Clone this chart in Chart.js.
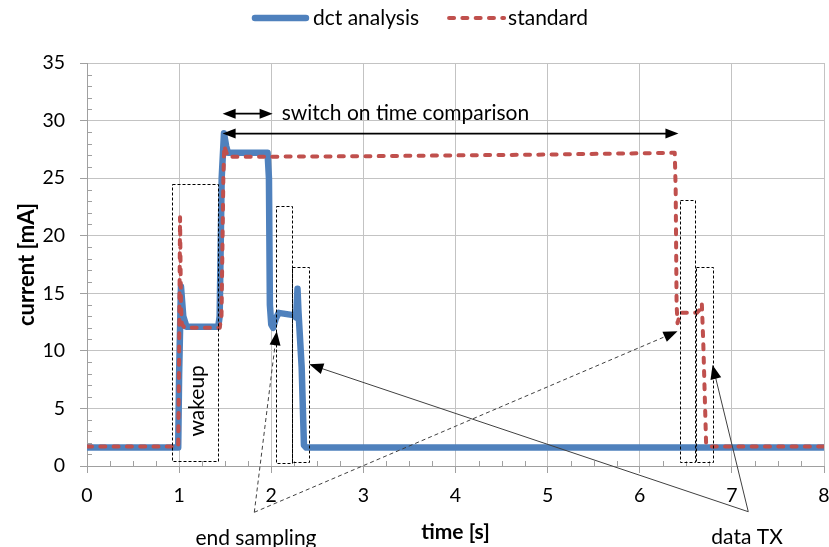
<!DOCTYPE html>
<html>
<head>
<meta charset="utf-8">
<script src="https://cdn.jsdelivr.net/npm/chart.js@4.4.1/dist/chart.umd.min.js"></script>
<style>
  html, body { margin: 0; padding: 0; background: #fff; }
  canvas { display: block; }
</style>
</head>
<body>
<canvas id="chart" width="829" height="547"></canvas>
<script>
// --- Data ---
const TIME_TICKS = [0, 1, 2, 3, 4, 5, 6, 7, 8];
const CURRENT_TICKS = [0, 5, 10, 15, 20, 25, 30, 35];

// dct analysis trace: time [s] / current [mA]
const dctTime = [0, 0.99, 1.0, 1.02, 1.045, 1.08, 1.425, 1.44, 1.462, 1.487, 1.51, 1.53, 1.96, 1.975, 1.985, 2.0, 2.02, 2.05, 2.08, 2.24, 2.27, 2.285, 2.295, 2.33, 2.355, 2.38, 8];
const dctCurrent = [1.6, 1.6, 8, 15.6, 13, 12.1, 12.1, 13, 25, 28.9, 27.8, 27.2, 27.2, 25, 14, 12.3, 12.0, 12.8, 13.3, 13.1, 12.9, 15.4, 13.5, 8.6, 1.8, 1.6, 1.6];

// standard trace
const stdTime = [0, 0.99, 1.0, 1.01, 1.02, 1.03, 1.06, 1.44, 1.46, 1.48, 1.49, 1.51, 1.53, 3, 5, 6.38, 6.39, 6.40, 6.41, 6.44, 6.62, 6.655, 6.674, 6.69, 6.72, 6.74, 8];
const stdCurrent = [1.7, 1.7, 10, 21.6, 14, 12.3, 12.0, 12.0, 13, 25, 27.8, 27.3, 26.85, 26.9, 27.05, 27.2, 24, 14, 12.4, 13.3, 13.3, 13.6, 14.1, 10.6, 2.0, 1.7, 1.7];

const SERIES_NAMES = ["dct analysis", "standard"];
const BLUE = "#4f81bd";
const RED = "#c0504d";
const GRID = "#c3c3c3";
const AXIS = "#a0a0a0";
const FONT = "Lato, 'Open Sans', sans-serif";
const NOTE_FONT = "21px " + FONT;

// --- Annotations (data coordinates) ---
const boxes = [
  { x0: 0.926, x1: 1.419, y0: 0.43, y1: 24.45 },
  { x0: 2.05, x1: 2.22, y0: 0.23, y1: 22.57 },
  { x0: 2.22, x1: 2.41, y0: 0.32, y1: 17.25 },
  { x0: 6.44, x1: 6.60, y0: 0.32, y1: 23.1 },
  { x0: 6.61, x1: 6.80, y0: 0.32, y1: 17.25 },
];
const spans = [
  { x0: 1.472, x1: 2.015, y: 30.6 },
  { x0: 1.472, x1: 6.42, y: 28.87 },
];
const endSampling = { from: [1.816, -4.02], tips: [[2.06, 11.7], [6.41, 11.7]], label: [1.834, -6.9] };
const dataTx = { from: [7.178, -3.97], tips: [[2.413, 8.83], [6.79, 8.77]], label: [7.165, -6.75] };

function toPts(xs, ys) {
  return xs.map((x, i) => ({ x, y: ys[i] }));
}

function arrowHead(ctx, x1, y1, x2, y2, len, wid) {
  const a = Math.atan2(y2 - y1, x2 - x1);
  ctx.save();
  ctx.translate(x2, y2);
  ctx.rotate(a);
  ctx.beginPath();
  ctx.moveTo(0, 0);
  ctx.lineTo(-len, -wid / 2);
  ctx.lineTo(-len, wid / 2);
  ctx.closePath();
  ctx.fill();
  ctx.restore();
}

const minorTicks = {
  id: "minorTicks",
  beforeDatasetsDraw(chart) {
    const { ctx, scales: { x, y } } = chart;
    ctx.save();
    ctx.strokeStyle = AXIS;
    ctx.lineWidth = 1;
    ctx.beginPath();
    for (let v = 0.25; v < 8; v += 0.25) {
      if (v % 1 === 0) continue;
      const px = Math.round(x.getPixelForValue(v)) + 0.5;
      ctx.moveTo(px, y.bottom);
      ctx.lineTo(px, y.bottom - 5);
    }
    for (let v = 1; v < 35; v++) {
      if (v % 5 === 0) continue;
      const py = Math.round(y.getPixelForValue(v)) + 0.5;
      ctx.moveTo(x.left, py);
      ctx.lineTo(x.left + 5, py);
    }
    ctx.stroke();
    ctx.restore();
  },
};

const notes = {
  id: "notes",
  afterDatasetsDraw(chart) {
    const { ctx, scales: { x, y } } = chart;
    const px = (v) => x.getPixelForValue(v);
    const py = (v) => y.getPixelForValue(v);
    ctx.save();

    // dotted frames
    ctx.strokeStyle = "#000";
    ctx.lineWidth = 1;
    ctx.setLineDash([3, 2]);
    boxes.forEach((b) => {
      const l = Math.round(px(b.x0)) + 0.5, r = Math.round(px(b.x1)) + 0.5;
      const t = Math.round(py(b.y1)) + 0.5, btm = Math.round(py(b.y0)) + 0.5;
      ctx.strokeRect(l, t, r - l, btm - t);
    });

    // double arrows
    ctx.setLineDash([]);
    ctx.fillStyle = "#000";
    ctx.lineWidth = 1.75;
    spans.forEach((s) => {
      const a = px(s.x0), b = px(s.x1), yy = py(s.y);
      ctx.beginPath();
      ctx.moveTo(a + 8, yy);
      ctx.lineTo(b - 8, yy);
      ctx.stroke();
      arrowHead(ctx, b, yy, a, yy, 13, 10);
      arrowHead(ctx, a, yy, b, yy, 13, 10);
    });

    // pointer lines
    ctx.lineWidth = 1;
    ctx.strokeStyle = "#404040";
    [[endSampling, [4, 3]], [dataTx, []]].forEach(([n, dash]) => {
      const fx = px(n.from[0]), fy = py(n.from[1]);
      n.tips.forEach((t) => {
        const tx = px(t[0]), ty = py(t[1]);
        const len = Math.hypot(tx - fx, ty - fy);
        const ex = tx - ((tx - fx) / len) * 10, ey = ty - ((ty - fy) / len) * 10;
        ctx.setLineDash(dash);
        ctx.beginPath();
        ctx.moveTo(fx, fy);
        ctx.lineTo(ex, ey);
        ctx.stroke();
        ctx.setLineDash([]);
        arrowHead(ctx, fx, fy, tx, ty, 14, 11);
      });
    });

    // labels
    ctx.fillStyle = "#000";
    ctx.font = NOTE_FONT;
    ctx.textBaseline = "middle";
    ctx.textAlign = "left";
    ctx.fillText("switch on time comparison", px(2.113), py(30.64));

    ctx.save();
    ctx.translate(px(1.2), py(5.66));
    ctx.rotate(-Math.PI / 2);
    ctx.textAlign = "center";
    ctx.fillText("wakeup", 0, 0);
    ctx.restore();

    ctx.textAlign = "center";
    ctx.textBaseline = "alphabetic";
    ctx.fillText("end sampling", px(endSampling.label[0]), py(endSampling.label[1]));
    ctx.fillText("data TX", px(dataTx.label[0]), py(dataTx.label[1]));

    ctx.restore();
  },
  afterDraw(chart) {
    // legend row
    const { ctx } = chart;
    ctx.save();
    ctx.font = NOTE_FONT;
    ctx.textBaseline = "middle";
    const sample = 57, gap = 4, between = 28;
    const w0 = ctx.measureText(SERIES_NAMES[0]).width;
    const w1 = ctx.measureText(SERIES_NAMES[1]).width;
    const total = sample + gap + w0 + between + sample + gap + w1;
    let cx = 420 - total / 2;
    const ly = 18;

    ctx.strokeStyle = BLUE;
    ctx.lineWidth = 6.5;
    ctx.lineCap = "round";
    ctx.beginPath();
    ctx.moveTo(cx + 3, ly);
    ctx.lineTo(cx + sample - 3, ly);
    ctx.stroke();
    cx += sample + gap;
    ctx.fillStyle = "#000";
    ctx.fillText(SERIES_NAMES[0], cx, ly);
    cx += w0 + between;

    ctx.strokeStyle = RED;
    ctx.lineWidth = 4;
    ctx.setLineDash([5, 8.3]);
    ctx.beginPath();
    ctx.moveTo(cx + 2, ly);
    ctx.lineTo(cx + sample, ly);
    ctx.stroke();
    ctx.setLineDash([]);
    cx += sample + gap;
    ctx.fillText(SERIES_NAMES[1], cx, ly);
    ctx.restore();
  },
};

new Chart(document.getElementById("chart"), {
  type: "line",
  data: {
    datasets: [
      {
        label: SERIES_NAMES[0],
        data: toPts(dctTime, dctCurrent),
        borderColor: BLUE,
        borderWidth: 6.5,
        borderCapStyle: "round",
        borderJoinStyle: "round",
        order: 1,
      },
      {
        label: SERIES_NAMES[1],
        data: toPts(stdTime, stdCurrent),
        borderColor: RED,
        borderWidth: 4,
        borderDash: [5, 8.3],
        borderCapStyle: "round",
        borderJoinStyle: "round",
        order: 0,
      },
    ],
  },
  options: {
    responsive: false,
    animation: false,
    layout: { padding: { top: 63, left: 0, right: 0, bottom: 0 } },
    elements: { point: { radius: 0 }, line: { tension: 0 } },
    plugins: { legend: { display: false }, tooltip: { enabled: false } },
    scales: {
      x: {
        type: "linear",
        min: 0,
        max: 8,
        afterBuildTicks: (s) => { s.ticks = TIME_TICKS.map((v) => ({ value: v })); },
        afterFit: (s) => { s.height = 81; s.paddingRight = 5; s.paddingLeft = 0; },
        grid: { color: GRID, tickLength: 7, tickColor: AXIS },
        border: { color: AXIS },
        ticks: { padding: 11, color: "#000", font: { family: FONT, size: 19.5 } },
        title: {
          display: true,
          text: "time [s]",
          color: "#000",
          font: { family: FONT, size: 21, weight: "bold" },
          padding: { top: 0, bottom: 2 },
        },
      },
      y: {
        min: 0,
        max: 35,
        afterBuildTicks: (s) => { s.ticks = CURRENT_TICKS.map((v) => ({ value: v })); },
        afterFit: (s) => { s.width = 87; },
        grid: { color: GRID, tickLength: 7, tickColor: AXIS },
        border: { color: AXIS },
        ticks: { padding: 15, color: "#000", font: { family: FONT, size: 19.5 } },
        title: {
          display: true,
          text: "current [mA]",
          color: "#000",
          font: { family: FONT, size: 22, weight: "bold" },
          padding: { top: 14, bottom: 0 },
        },
      },
    },
  },
  plugins: [minorTicks, notes],
});
</script>
</body>
</html>
